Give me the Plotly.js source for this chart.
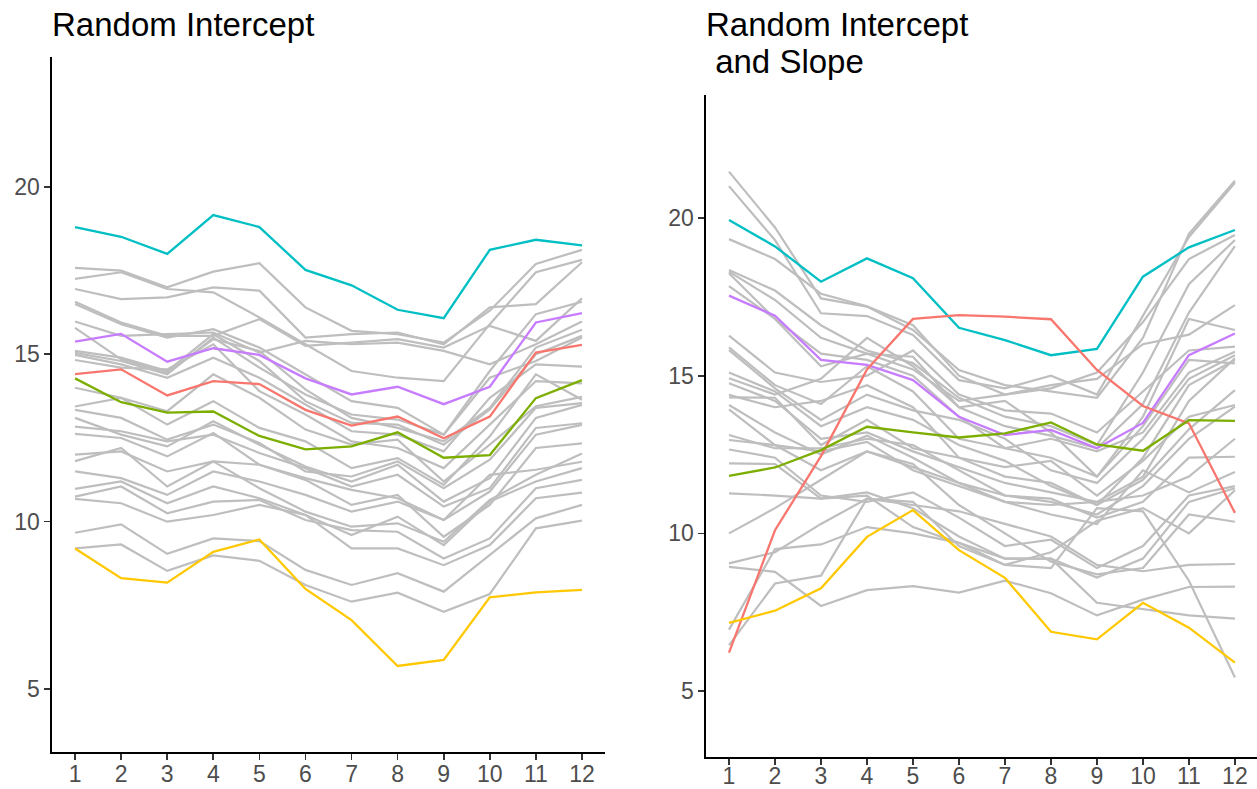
<!DOCTYPE html>
<html>
<head>
<meta charset="utf-8">
<script src="https://cdn.plot.ly/plotly-3.0.1.min.js"></script>
<style>
  html, body { margin: 0; padding: 0; background: #ffffff; }
  #chart { width: 1257px; height: 789px; }
</style>
</head>
<body>
<div id="chart"></div>
<script>
// time points
var months = [1, 2, 3, 4, 5, 6, 7, 8, 9, 10, 11, 12];

// ---- left panel: random intercept ----
var leftCyan   = [18.80, 18.51, 18.00, 19.16, 18.80, 17.52, 17.06, 16.33, 16.08, 18.12, 18.42, 18.25];
var leftPurple = [15.38, 15.61, 14.78, 15.18, 14.98, 14.28, 13.80, 14.03, 13.51, 14.03, 15.95, 16.23];
var leftRed    = [14.41, 14.55, 13.77, 14.20, 14.11, 13.34, 12.87, 13.14, 12.49, 13.14, 15.05, 15.28];
var leftGreen  = [14.28, 13.57, 13.26, 13.29, 12.56, 12.16, 12.25, 12.67, 11.91, 11.99, 13.69, 14.23];
var leftYellow = [9.20, 8.31, 8.18, 9.10, 9.47, 7.99, 7.06, 5.69, 5.87, 7.74, 7.89, 7.96];

var leftGray = [
  [17.58, 17.50, 17.00, 17.47, 17.72, 16.40, 15.70, 15.60, 15.35, 16.30, 17.70, 18.12],
  [17.25, 17.45, 16.95, 16.85, 16.10, 15.30, 14.50, 14.30, 14.20, 15.90, 17.45, 17.82],
  [16.95, 16.65, 16.70, 17.00, 16.90, 15.50, 15.60, 15.65, 15.30, 16.40, 16.50, 17.75],
  [16.57, 15.95, 15.55, 15.55, 16.05, 15.25, 15.35, 15.45, 15.20, 15.85, 15.40, 16.67],
  [16.50, 15.90, 15.50, 15.75, 15.20, 14.40, 13.60, 13.40, 12.60, 14.50, 16.20, 16.57],
  [15.98, 15.55, 15.60, 15.65, 15.05, 15.40, 15.30, 15.35, 15.10, 14.70, 15.30, 15.98],
  [15.79, 14.85, 14.45, 15.45, 15.10, 13.95, 13.10, 12.80, 12.40, 13.40, 15.20, 15.73],
  [15.10, 14.90, 14.50, 15.60, 14.80, 13.60, 12.95, 12.90, 12.30, 13.35, 15.00, 15.55],
  [15.04, 14.80, 14.40, 15.50, 14.60, 13.80, 13.20, 13.05, 12.60, 14.30, 14.80, 15.50],
  [14.98, 14.70, 14.30, 14.90, 14.30, 13.50, 12.70, 12.60, 12.10, 13.70, 14.70, 14.63],
  [14.83, 14.60, 14.55, 15.30, 13.90, 13.20, 12.40, 12.20, 11.60, 12.90, 14.20, 14.13],
  [14.00, 13.70, 13.30, 14.40, 13.70, 12.75, 12.30, 12.45, 11.20, 12.30, 13.45, 13.73],
  [13.44, 13.70, 12.90, 13.60, 12.80, 12.40, 11.60, 11.90, 11.10, 12.55, 14.40, 13.64],
  [13.34, 13.10, 12.45, 12.90, 12.35, 11.50, 11.35, 11.80, 11.00, 11.85, 13.40, 13.54],
  [13.10, 12.60, 12.25, 13.00, 12.30, 11.65, 11.20, 11.70, 10.60, 11.30, 13.10, 13.49],
  [12.84, 12.70, 12.40, 12.60, 12.05, 11.60, 11.05, 11.40, 10.45, 11.00, 12.80, 12.94],
  [12.62, 12.50, 11.95, 12.65, 11.70, 11.30, 10.95, 10.70, 10.05, 10.90, 12.60, 12.89],
  [12.00, 12.10, 11.50, 11.80, 11.70, 11.25, 10.50, 10.80, 9.55, 10.50, 12.20, 12.34],
  [11.81, 12.20, 11.05, 11.80, 11.00, 10.30, 9.85, 9.95, 9.40, 10.65, 11.40, 12.04],
  [11.50, 11.30, 10.80, 11.50, 11.20, 10.80, 10.30, 10.60, 10.05, 11.40, 11.55, 11.79],
  [10.98, 11.20, 10.55, 11.05, 10.70, 10.20, 9.60, 10.15, 9.30, 10.60, 11.20, 11.60],
  [10.75, 11.05, 10.25, 10.60, 10.65, 10.05, 9.75, 9.70, 8.90, 9.50, 11.00, 11.25],
  [10.68, 10.55, 10.00, 10.20, 10.50, 10.20, 9.20, 9.20, 8.70, 9.30, 10.70, 10.87],
  [9.67, 9.92, 9.04, 9.50, 9.42, 8.56, 8.11, 8.46, 7.91, 9.00, 10.10, 10.50],
  [9.20, 9.32, 8.53, 8.99, 8.83, 8.11, 7.61, 7.88, 7.31, 7.84, 9.80, 10.03]
];

// ---- right panel: random intercept and slope ----
var rightCyan   = [19.94, 19.10, 17.98, 18.72, 18.09, 16.52, 16.13, 15.65, 15.85, 18.14, 19.07, 19.62];
var rightPurple = [17.54, 16.90, 15.50, 15.34, 14.86, 13.70, 13.12, 13.28, 12.70, 13.50, 15.65, 16.34];
var rightRed    = [6.22, 10.10, 12.45, 15.20, 16.80, 16.92, 16.87, 16.79, 15.18, 14.04, 13.49, 10.65];
var rightGreen  = [11.82, 12.09, 12.64, 13.38, 13.20, 13.04, 13.17, 13.52, 12.82, 12.62, 13.59, 13.57];
var rightYellow = [7.16, 7.55, 8.26, 9.89, 10.74, 9.47, 8.59, 6.88, 6.64, 7.80, 7.01, 5.90];

var rightGray = [
  [21.47, 19.70, 17.45, 17.19, 16.45, 15.18, 14.70, 14.50, 14.30, 16.20, 19.50, 21.18],
  [21.01, 19.30, 16.98, 16.89, 16.29, 14.86, 14.60, 15.00, 14.40, 16.90, 19.40, 21.12],
  [19.33, 18.70, 17.60, 17.20, 16.60, 15.00, 14.40, 14.60, 15.10, 16.70, 18.70, 19.46],
  [18.35, 17.70, 16.60, 15.80, 15.40, 14.30, 13.70, 13.40, 12.80, 15.10, 17.90, 19.30],
  [18.30, 17.40, 16.20, 15.70, 15.60, 14.00, 13.40, 13.10, 12.70, 14.10, 17.00, 19.11],
  [18.25, 16.80, 15.30, 15.70, 15.20, 14.20, 14.40, 14.70, 14.90, 16.00, 16.30, 17.24],
  [17.84, 16.80, 15.70, 15.50, 15.00, 13.70, 12.70, 12.40, 11.80, 13.70, 16.80, 16.45],
  [16.27, 15.10, 14.80, 15.00, 15.80, 14.40, 13.90, 13.80, 13.20, 14.50, 15.80, 15.92],
  [15.90, 14.70, 14.10, 15.30, 14.50, 13.00, 12.70, 13.00, 12.60, 13.20, 15.10, 15.76],
  [15.81, 14.60, 13.60, 14.40, 13.90, 13.60, 13.00, 12.00, 11.60, 13.00, 14.90, 15.65],
  [15.10, 14.50, 13.40, 14.00, 13.60, 12.80, 12.30, 11.50, 10.90, 12.40, 14.70, 15.50],
  [14.92, 14.40, 14.90, 16.20, 15.30, 14.00, 14.20, 13.20, 11.80, 13.40, 15.50, 15.39],
  [14.76, 14.20, 13.00, 13.20, 12.60, 12.10, 11.60, 11.30, 11.00, 11.80, 14.20, 15.55],
  [14.39, 14.00, 14.20, 14.70, 14.00, 12.40, 11.80, 11.60, 10.90, 11.70, 13.30, 14.54],
  [14.31, 14.30, 12.80, 13.60, 12.70, 12.40, 12.10, 12.30, 11.20, 12.30, 13.70, 14.07],
  [14.07, 13.20, 12.50, 13.10, 12.40, 11.60, 11.20, 11.00, 10.60, 11.50, 13.00, 14.02],
  [13.93, 12.80, 12.00, 12.60, 12.10, 11.60, 11.00, 10.90, 11.00, 11.20, 11.80, 13.00],
  [13.12, 12.70, 12.70, 13.00, 12.80, 12.00, 11.20, 11.10, 10.50, 11.00, 12.40, 12.43],
  [12.96, 12.80, 12.60, 12.90, 12.00, 11.50, 11.00, 10.60, 10.30, 12.00, 11.30, 11.95],
  [12.66, 12.40, 11.20, 11.00, 11.30, 10.50, 9.60, 9.80, 8.90, 9.60, 11.20, 11.50],
  [12.22, 12.20, 11.10, 11.30, 10.80, 9.90, 9.20, 9.20, 8.60, 9.20, 11.00, 11.43],
  [11.27, 11.20, 11.10, 11.20, 10.20, 9.70, 9.00, 9.40, 10.40, 10.80, 10.00, 11.37],
  [10.00, 10.80, 11.70, 12.60, 12.20, 10.90, 10.00, 9.10, 8.70, 8.90, 10.60, 10.37],
  [9.05, 9.40, 10.30, 11.10, 10.90, 10.70, 10.30, 9.90, 9.00, 8.80, 9.00, 9.03],
  [8.94, 8.78, 7.70, 8.20, 8.33, 8.12, 8.50, 8.10, 7.40, 7.90, 8.30, 8.31],
  [6.95, 9.50, 9.65, 10.20, 10.00, 9.70, 9.20, 9.20, 7.80, 7.60, 7.40, 7.30],
  [6.46, 8.41, 8.66, 11.10, 11.00, 9.60, 9.00, 8.90, 10.80, 10.70, 8.50, 5.43]
];

var highlightColors = ['#00BFC4', '#C77CFF', '#F8766D', '#7CAE00', '#FFC800'];

function lineTrace(yvals, color, xa, ya, w) {
  return {
    x: months,
    y: yvals,
    xaxis: xa,
    yaxis: ya,
    type: 'scatter',
    mode: 'lines',
    line: {color: color, width: w},
    hoverinfo: 'skip',
    showlegend: false
  };
}

var data = [];
leftGray.forEach(function(s) { data.push(lineTrace(s, '#BEBEBE', 'x', 'y', 2.2)); });
[leftCyan, leftPurple, leftRed, leftGreen, leftYellow].forEach(function(s, i) {
  data.push(lineTrace(s, highlightColors[i], 'x', 'y', 2.3));
});
rightGray.forEach(function(s) { data.push(lineTrace(s, '#BEBEBE', 'x2', 'y2', 2.2)); });
[rightCyan, rightPurple, rightRed, rightGreen, rightYellow].forEach(function(s, i) {
  data.push(lineTrace(s, highlightColors[i], 'x2', 'y2', 2.3));
});

var W = 1257, H = 789;
var tickFont = {family: 'Liberation Sans, Arial, sans-serif', size: 23, color: '#4d4d4d'};

function xAxis(domain, range, anchor, standoff) {
  return {
    domain: domain,
    range: range,
    anchor: anchor,
    tickvals: months,
    ticktext: months.map(String),
    showline: true,
    linecolor: '#000000',
    linewidth: 1.6,
    ticks: 'outside',
    ticklen: 6,
    tickwidth: 1.6,
    tickcolor: '#333333',
    tickfont: tickFont,
    ticklabelstandoff: standoff,
    showgrid: false,
    zeroline: false,
    automargin: false,
    fixedrange: true
  };
}

function yAxis(domain, range, anchor) {
  return {
    domain: domain,
    range: range,
    anchor: anchor,
    tickvals: [5, 10, 15, 20],
    showline: true,
    linecolor: '#000000',
    linewidth: 1.6,
    ticks: 'outside',
    ticklen: 6,
    tickwidth: 1.6,
    tickcolor: '#333333',
    tickfont: tickFont,
    showgrid: false,
    zeroline: false,
    automargin: false,
    fixedrange: true
  };
}

var titleFont = {family: 'Liberation Sans, Arial, sans-serif', size: 33, color: '#000000'};

var layout = {
  width: W,
  height: H,
  margin: {l: 0, r: 0, t: 0, b: 0, pad: 0},
  paper_bgcolor: '#ffffff',
  plot_bgcolor: '#ffffff',
  showlegend: false,
  xaxis: xAxis([52 / W, 605 / W], [0.5, 12.5], 'y', -5),
  yaxis: yAxis([1 - 752 / H, 1 - 57 / H], [3.12, 23.88], 'x'),
  xaxis2: xAxis([706 / W, 1], [0.5, 12.48], 'y2', -8),
  yaxis2: yAxis([1 - 757 / H, 1 - 95 / H], [2.91, 23.90], 'x2'),
  annotations: [
    {
      xref: 'paper', yref: 'paper',
      x: 50 / W, y: 1 - 25 / H,
      xanchor: 'left', yanchor: 'middle',
      text: 'Random Intercept',
      font: titleFont,
      showarrow: false
    },
    {
      xref: 'paper', yref: 'paper',
      x: 704 / W, y: 1 - 24 / H,
      xanchor: 'left', yanchor: 'middle',
      text: 'Random Intercept',
      font: titleFont,
      showarrow: false
    },
    {
      xref: 'paper', yref: 'paper',
      x: 704 / W, y: 1 - 61 / H,
      xanchor: 'left', yanchor: 'middle',
      text: '\u00a0and Slope',
      font: titleFont,
      showarrow: false
    }
  ]
};

Plotly.newPlot('chart', data, layout, {displayModeBar: false, staticPlot: true});
</script>
</body>
</html>
